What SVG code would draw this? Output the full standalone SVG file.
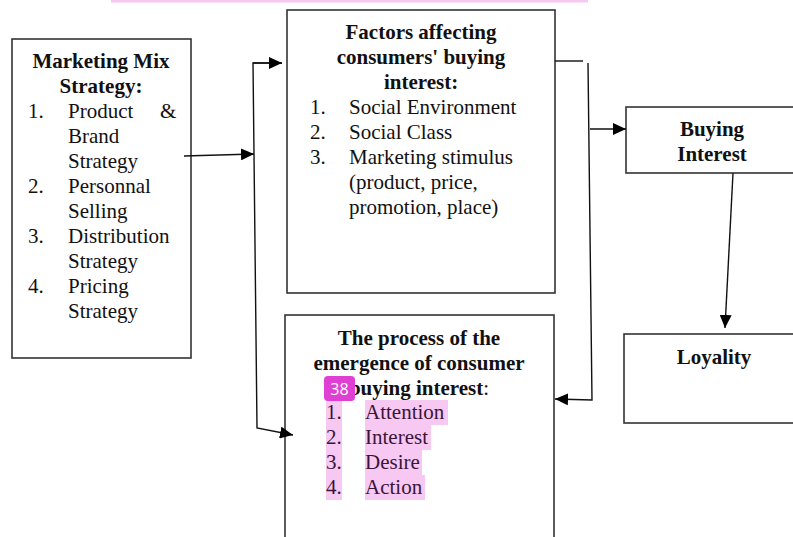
<svg xmlns="http://www.w3.org/2000/svg" width="793" height="537" viewBox="0 0 793 537">
<style>
.box{fill:#fff;stroke:#333;stroke-width:1.6}
text{font-family:"Liberation Serif","Times New Roman",serif;font-size:21px;fill:#111}
.b{font-weight:bold;text-anchor:middle}
.ln{fill:none;stroke:#111;stroke-width:1.4}
.hl{fill:#f7c8f2}
.ht{fill:#3a1538}
</style>
<defs>
<marker id="ah" markerUnits="userSpaceOnUse" markerWidth="14" markerHeight="12" refX="13" refY="6" orient="auto">
<path d="M0,0 L13,6 L0,12 Z" fill="#000"/>
</marker>
</defs>
<rect width="793" height="537" fill="#fff"/>
<rect x="111" y="0" width="477" height="2.5" fill="#f7c8f2"/>

<g id="marketing-mix">
<rect class="box" x="12" y="39" width="179" height="319"/>
<text class="b" x="101" y="68">Marketing Mix</text>
<text class="b" x="101" y="93">Strategy:</text>
<text x="28" y="118">1.</text><text x="68" y="118">Product</text><text x="160" y="118">&amp;</text>
<text x="68" y="143">Brand</text>
<text x="68" y="168">Strategy</text>
<text x="28" y="193">2.</text><text x="68" y="193">Personnal</text>
<text x="68" y="218">Selling</text>
<text x="28" y="243">3.</text><text x="68" y="243">Distribution</text>
<text x="68" y="268">Strategy</text>
<text x="28" y="293">4.</text><text x="68" y="293">Pricing</text>
<text x="68" y="318">Strategy</text>
</g>

<g id="factors">
<rect class="box" x="287" y="10" width="268" height="283"/>
<text class="b" x="421" y="39">Factors affecting</text>
<text class="b" x="421" y="64">consumers' buying</text>
<text class="b" x="421" y="89">interest:</text>
<text x="310" y="114">1.</text><text x="349" y="114">Social Environment</text>
<text x="310" y="139">2.</text><text x="349" y="139">Social Class</text>
<text x="310" y="164">3.</text><text x="349" y="164">Marketing stimulus</text>
<text x="349" y="189">(product, price,</text>
<text x="349" y="214">promotion, place)</text>
</g>

<g id="process">
<rect class="box" x="285" y="315" width="269" height="240"/>
<text class="b" x="419" y="345">The process of the</text>
<text class="b" x="419" y="370">emergence of consumer</text>
<text x="419" y="395" text-anchor="middle"><tspan font-weight="bold">buying interest</tspan>:</text>
<rect class="hl" x="326" y="400" width="16" height="100"/>
<rect class="hl" x="365" y="400" width="83" height="25"/>
<rect class="hl" x="365" y="425" width="66" height="25"/>
<rect class="hl" x="365" y="450" width="57" height="25"/>
<rect class="hl" x="365" y="475" width="60" height="25"/>
<text class="ht" x="326" y="419">1.</text><text class="ht" x="365" y="419">Attention</text>
<text class="ht" x="326" y="444">2.</text><text class="ht" x="365" y="444">Interest</text>
<text class="ht" x="326" y="469">3.</text><text class="ht" x="365" y="469">Desire</text>
<text class="ht" x="326" y="494">4.</text><text class="ht" x="365" y="494">Action</text>
<rect x="324" y="376" width="31" height="25" rx="4" fill="#e03fd4"/>
<text x="339.5" y="395" text-anchor="middle" style="font-family:'Open Sans','DejaVu Sans',sans-serif;font-size:16px;fill:#fff">38</text>
</g>

<g id="buying-interest">
<rect class="box" x="626" y="107" width="180" height="66"/>
<text class="b" x="712" y="136">Buying</text>
<text class="b" x="712" y="161">Interest</text>
</g>

<g id="loyality">
<rect class="box" x="624" y="334" width="180" height="89"/>
<text class="b" x="714" y="364">Loyality</text>
</g>

<g id="connectors">
<line class="ln" x1="184" y1="156" x2="254" y2="154" marker-end="url(#ah)"/>
<polyline class="ln" points="282,63 253,63 257,428 293,435" marker-end="url(#ah)"/>
<line class="ln" x1="253" y1="63" x2="282" y2="63" marker-end="url(#ah)"/>
<line class="ln" x1="555" y1="61" x2="583" y2="61"/>
<polyline class="ln" points="588,63 592,400 555,399" marker-end="url(#ah)"/>
<line class="ln" x1="590" y1="129" x2="626" y2="129" marker-end="url(#ah)"/>
<line class="ln" x1="733" y1="173" x2="725" y2="328" marker-end="url(#ah)"/>
</g>
</svg>
